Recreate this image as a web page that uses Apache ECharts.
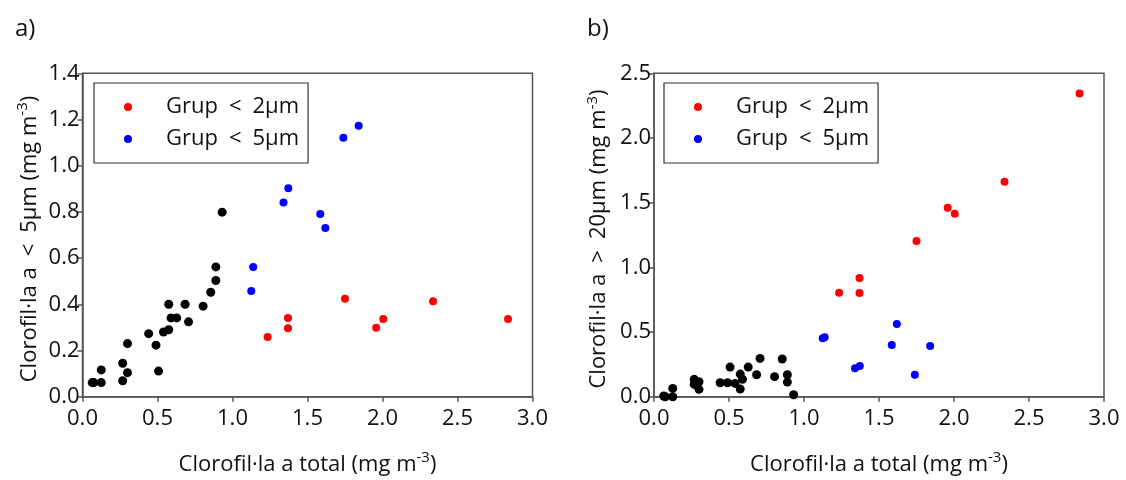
<!DOCTYPE html>
<html>
<head>
<meta charset="utf-8">
<script src="https://cdn.jsdelivr.net/npm/echarts@6/dist/echarts.min.js"></script>
<style>html,body{margin:0;padding:0;background:#fff}#c{width:1126px;height:480px}</style>
</head>
<body>
<div id="c"></div>
<script>
// Black points (not in legend): total chl, fraction < 5um, fraction > 20um
const blackTotal = [0.065, 0.075, 0.125, 0.125, 0.268, 0.268, 0.300, 0.300, 0.441, 0.490, 0.507, 0.540, 0.575, 0.575, 0.590, 0.628, 0.684, 0.707, 0.804, 0.855, 0.889, 0.889, 0.931];
const blackLt5    = [0.061, 0.061, 0.061, 0.116, 0.145, 0.069, 0.104, 0.230, 0.273, 0.223, 0.111, 0.280, 0.290, 0.400, 0.341, 0.341, 0.400, 0.324, 0.392, 0.452, 0.503, 0.562, 0.799];
const blackGt20   = [0.005, 0.000, 0.000, 0.064, 0.134, 0.095, 0.116, 0.057, 0.108, 0.108, 0.229, 0.103, 0.175, 0.059, 0.134, 0.229, 0.170, 0.296, 0.155, 0.291, 0.170, 0.113, 0.015];

// Group < 2um (red)
const redTotal = [1.234, 1.370, 1.370, 1.750, 1.958, 2.005, 2.337, 2.837];
const redLt5   = [0.258, 0.341, 0.296, 0.424, 0.299, 0.336, 0.413, 0.336];
const redGt20  = [0.804, 0.918, 0.802, 1.204, 1.461, 1.415, 1.662, 2.343];

// Group < 5um (blue)
const blueTotal = [1.125, 1.138, 1.340, 1.372, 1.585, 1.619, 1.739, 1.841];
const blueLt5   = [0.458, 0.561, 0.841, 0.902, 0.791, 0.730, 1.121, 1.173];
const blueGt20  = [0.451, 0.459, 0.219, 0.237, 0.399, 0.562, 0.170, 0.392];

const xTicks = ['0.0','0.5','1.0','1.5','2.0','2.5','3.0'];
const seriesNames = ['Grup < 2μm', 'Grup < 5μm'];
const panelLabels = ['a)', 'b)'];
const yTitles = ['Clorofil·la a < 5μm', 'Clorofil·la a > 20μm'];

const zip = (a, b) => a.map((v, i) => [v, b[i]]);
const wide = s => s.replace(/ ([<>]) /g, '\u2002$1\u2002');

const FONT = 'Open Sans';
const FS = 22;
const AX = '#555';
const rich = {
  a: {fontFamily: FONT, fontSize: FS, color: '#111', lineHeight: 28},
  s: {fontFamily: FONT, fontSize: 15, color: '#111', verticalAlign: 'top', lineHeight: 28}
};

function xAxis(gi) {
  return {
    type: 'value', gridIndex: gi, min: 0, max: 3, interval: 0.5,
    name: '{a|Clorofil·la a total (mg m}{s|-3}{a|)}',
    nameLocation: 'middle', nameGap: 54,
    nameTextStyle: {rich: rich},
    axisLine: {show: true, onZero: false, lineStyle: {color: AX, width: 1.5}},
    axisTick: {show: true, length: 5, lineStyle: {color: AX, width: 1.5}},
    axisLabel: {fontFamily: FONT, fontSize: FS, color: '#111', margin: 11,
      formatter: v => xTicks[Math.round(v / 0.5)]},
    splitLine: {show: false}
  };
}
function yAxis(gi, max, interval, label, gap) {
  return {
    type: 'value', gridIndex: gi, min: 0, max: max, interval: interval,
    name: '{a|' + wide(label) + ' (mg m}{s|-3}{a|)}',
    nameLocation: 'middle', nameGap: gap,
    nameTextStyle: {rich: rich, padding: [0, 8, 0, 0]},
    axisLine: {show: true, onZero: false, lineStyle: {color: AX, width: 1.5}},
    axisTick: {show: true, length: 5, lineStyle: {color: AX, width: 1.5}},
    axisLabel: {fontFamily: FONT, fontSize: FS, color: '#111', margin: 3,
      formatter: v => v.toFixed(1)},
    splitLine: {show: false}
  };
}
function sc(name, gi, xs, ys, color, size) {
  return {
    type: 'scatter', name: name, xAxisIndex: gi, yAxisIndex: gi,
    data: zip(xs, ys), symbol: 'circle', symbolSize: size,
    itemStyle: {color: color, opacity: 1}, emphasis: {disabled: true}, silent: true
  };
}
function legend(left) {
  return {
    data: seriesNames, orient: 'vertical', left: left, top: 83,
    icon: 'circle', itemWidth: 8, itemHeight: 8, itemGap: 6,
    borderColor: '#333', borderWidth: 1.2,
    padding: [11, 9, 11, 30],
    formatter: n => n.replace(/ /g, '\u2002'),
    textStyle: {fontFamily: FONT, fontSize: FS, color: '#111', padding: [0, 0, 0, 29], lineHeight: 26},
    selectedMode: false
  };
}

const chart = echarts.init(document.getElementById('c'), null, {renderer: 'canvas'});
chart.setOption({
  animation: false,
  backgroundColor: '#fff',
  title: [
    {text: panelLabels[0], left: 10, top: 12, textStyle: {fontFamily: FONT, fontSize: 24, fontWeight: 'normal', color: '#111'}},
    {text: panelLabels[1], left: 582, top: 12, textStyle: {fontFamily: FONT, fontSize: 24, fontWeight: 'normal', color: '#111'}}
  ],
  grid: [
    {left: 82.5, top: 73.3, width: 450, height: 323.4, show: true, borderColor: AX, borderWidth: 1.5, backgroundColor: 'transparent', containLabel: false, outerBoundsMode: 'none'},
    {left: 654, top: 73.3, width: 450, height: 323.4, show: true, borderColor: AX, borderWidth: 1.5, backgroundColor: 'transparent', containLabel: false, outerBoundsMode: 'none'}
  ],
  xAxis: [xAxis(0), xAxis(1)],
  yAxis: [yAxis(0, 1.4, 0.2, yTitles[0], 39), yAxis(1, 2.5, 0.5, yTitles[1], 41)],
  legend: [legend(94), legend(664)],
  series: [
    sc('black', 0, blackTotal, blackLt5, '#000', 9),
    sc(seriesNames[0], 0, redTotal, redLt5, '#ff0000', 8),
    sc(seriesNames[1], 0, blueTotal, blueLt5, '#0000ff', 8),
    sc('black', 1, blackTotal, blackGt20, '#000', 9),
    sc(seriesNames[0], 1, redTotal, redGt20, '#ff0000', 8),
    sc(seriesNames[1], 1, blueTotal, blueGt20, '#0000ff', 8)
  ]
});
</script>
</body>
</html>
